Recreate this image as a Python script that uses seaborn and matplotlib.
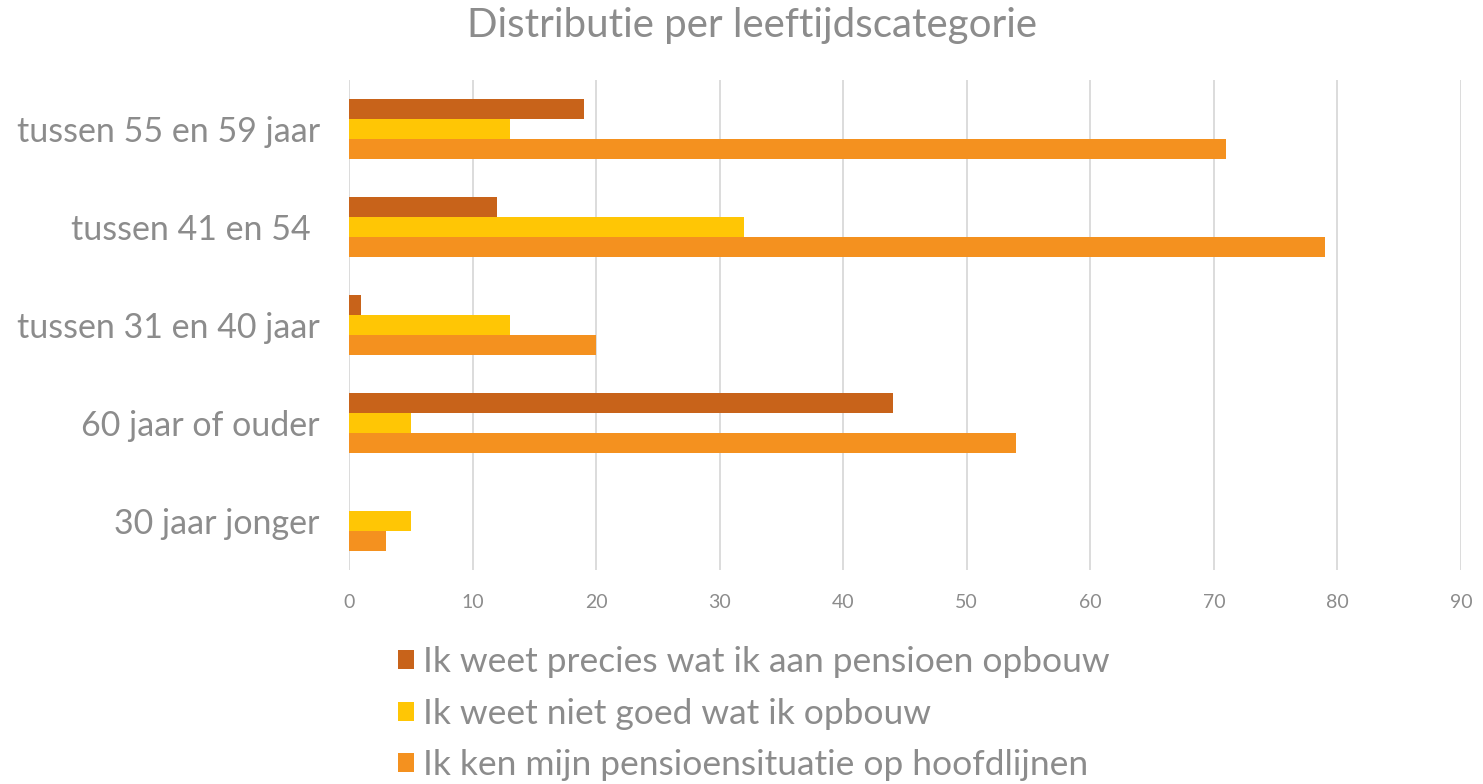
import pandas as pd
import matplotlib
matplotlib.use("Agg")
import matplotlib.pyplot as plt
import seaborn as sns

# data
categories = ["tussen 55 en 59 jaar", "tussen 41 en 54 ", "tussen 31 en 40 jaar",
              "60 jaar of ouder", "30 jaar jonger"]
series = ["Ik weet precies wat ik aan pensioen opbouw",
          "Ik weet niet goed wat ik opbouw",
          "Ik ken mijn pensioensituatie op hoofdlijnen"]
precies = [19, 12, 1, 44, 0]
niet_goed = [13, 32, 13, 5, 5]
hoofdlijnen = [71, 79, 20, 54, 3]
colors = ["#C8631A", "#FFC605", "#F4911F"]

rows = []
for vals, name in zip([precies, niet_goed, hoofdlijnen], series):
    for cat, v in zip(categories, vals):
        rows.append({"categorie": cat, "antwoord": name, "waarde": v})
df = pd.DataFrame(rows)

sns.set_style("white")
plt.rcParams["font.family"] = ["Lato", "DejaVu Sans"]
grey = "#8C8C8C"

fig, ax = plt.subplots(figsize=(14.83, 7.84), dpi=100)
fig.subplots_adjust(left=349 / 1483, right=1461 / 1483, top=1 - 80 / 784, bottom=1 - 570 / 784)

sns.barplot(data=df, y="categorie", x="waarde", hue="antwoord", order=categories,
            hue_order=series, palette=colors, orient="h", width=0.612,
            saturation=1, linewidth=0, ax=ax, legend=True)

ax.set_xlim(0, 90)
ax.set_xticks(range(0, 91, 10))
ax.xaxis.grid(True, color="#D9D9D9", linewidth=1.3)
ax.set_axisbelow(True)
for s in ax.spines.values():
    s.set_visible(False)
ax.set_xlabel("")
ax.set_ylabel("")
ax.tick_params(axis="x", length=0, labelsize=14, labelcolor=grey, pad=17)
ax.tick_params(axis="y", length=0, labelsize=24.5, labelcolor=grey, pad=21)

fig.suptitle("Distributie per leeftijdscategorie", x=752 / 1483, y=1 - 25 / 784,
             va="center", fontsize=29, color=grey)

handles, labels = ax.get_legend_handles_labels()
ax.get_legend().remove()
fig.legend(handles, labels, loc="upper left", bbox_to_anchor=(384 / 1483, 1 - 632 / 784),
           frameon=False, fontsize=25.5, labelcolor=grey, handlelength=0.45,
           handleheight=0.45, handletextpad=0.25, labelspacing=0.55, borderaxespad=0)

fig.savefig("out.png", dpi=100, facecolor="white")
